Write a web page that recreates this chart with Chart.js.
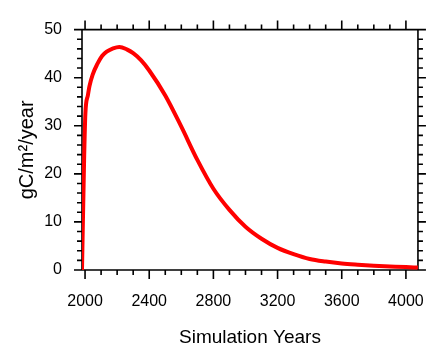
<!DOCTYPE html>
<html lang="en">
<head>
<meta charset="utf-8">
<title>Simulation Years</title>
<script src="https://cdn.jsdelivr.net/npm/chart.js@4.4.1/dist/chart.umd.min.js"></script>
<style>
    html, body { margin: 0; padding: 0; background: #fff; }
    #contenedor { width: 446px; height: 352px; }
</style>
</head>
<body>
<div id="contenedor"><canvas id="chartCarbono"></canvas></div>
<script>
// valores
const anios = [1981, 1994, 2002, 2018, 2028, 2047, 2076, 2106, 2135, 2175, 2214, 2260, 2300,
               2350, 2400, 2500, 2600, 2700, 2800, 2900, 3000, 3100, 3200, 3300, 3400, 3500,
               3600, 3700, 3800, 3900, 4000, 4075];
const flujo = [0, 22.8, 32.5, 36.4, 38.3, 40.6, 42.8, 44.5, 45.4, 46.1, 46.4, 45.9, 45.1,
               43.6, 41.5, 36.3, 29.8, 22.9, 16.9, 12.5, 9.0, 6.5, 4.6, 3.3, 2.3, 1.75,
               1.35, 1.1, 0.9, 0.75, 0.6, 0.5];
const ticksX = [2000, 2400, 2800, 3200, 3600, 4000];
const ticksY = [0, 10, 20, 30, 40, 50];
const menorX = 100;
const menorY = 2;

document.addEventListener('DOMContentLoaded', function() {
    Chart.defaults.font.family = '"Liberation Sans", Arial, Helvetica, sans-serif';
    Chart.defaults.color = '#000';

    // marco con ticks hacia afuera en los cuatro lados (estilo NCL)
    const marcoNCL = {
        id: 'marcoNCL',
        beforeDatasetsDraw(chart) {
            const { ctx, chartArea: a, scales: { x, y } } = chart;
            ctx.save();
            ctx.strokeStyle = '#000';
            ctx.lineWidth = 1.6;
            ctx.beginPath();
            ctx.rect(a.left, a.top, a.right - a.left, a.bottom - a.top);
            for (let v = Math.ceil(x.min / menorX) * menorX; v <= x.max; v += menorX) {
                const px = x.getPixelForValue(v);
                const largo = ticksX.includes(v) ? 9 : 5;
                ctx.moveTo(px, a.bottom); ctx.lineTo(px, a.bottom + largo);
                ctx.moveTo(px, a.top); ctx.lineTo(px, a.top - largo);
            }
            for (let v = y.min; v <= y.max; v += menorY) {
                const py = y.getPixelForValue(v);
                const largo = ticksY.includes(v) ? 8 : 5;
                ctx.moveTo(a.left, py); ctx.lineTo(a.left - largo, py);
                ctx.moveTo(a.right, py); ctx.lineTo(a.right + largo, py);
            }
            ctx.stroke();
            ctx.restore();
        }
    };

    const ctxCarbono = document.getElementById('chartCarbono').getContext('2d');
    new Chart(ctxCarbono, {
        type: 'line',
        data: {
            datasets: [{
                data: anios.map((a, i) => ({ x: a, y: flujo[i] })),
                borderColor: '#ff0000',
                borderWidth: 4,
                pointRadius: 0,
                cubicInterpolationMode: 'monotone',
                fill: false
            }]
        },
        options: {
            responsive: true,
            maintainAspectRatio: false,
            animation: false,
            layout: { padding: { left: 0, right: 8, top: 13, bottom: 0 } },
            plugins: { legend: { display: false }, tooltip: { enabled: false } },
            scales: {
                x: {
                    type: 'linear',
                    min: 1981,
                    max: 4075,
                    afterBuildTicks: s => { s.ticks = ticksX.map(v => ({ value: v })); },
                    afterFit: s => { s.height = 82; },
                    grid: { display: false, drawTicks: false },
                    border: { display: false },
                    ticks: { autoSkip: false, maxRotation: 0, padding: 22, font: { size: 16 },
                             callback: v => String(v) },
                    title: { display: true, text: 'Simulation Years', font: { size: 19 }, padding: { top: 0, bottom: 3 } }
                },
                y: {
                    type: 'linear',
                    min: 0,
                    max: 50,
                    afterBuildTicks: s => { s.ticks = ticksY.map(v => ({ value: v })); },
                    afterFit: s => { s.width = 82; },
                    grid: { display: false, drawTicks: false },
                    border: { display: false },
                    ticks: { padding: 20, font: { size: 16 }, callback: v => String(v) },
                    title: { display: true, text: 'gC/m²/year', font: { size: 20 }, padding: { top: 15, bottom: 0 } }
                }
            }
        },
        plugins: [marcoNCL]
    });
});
</script>
</body>
</html>
